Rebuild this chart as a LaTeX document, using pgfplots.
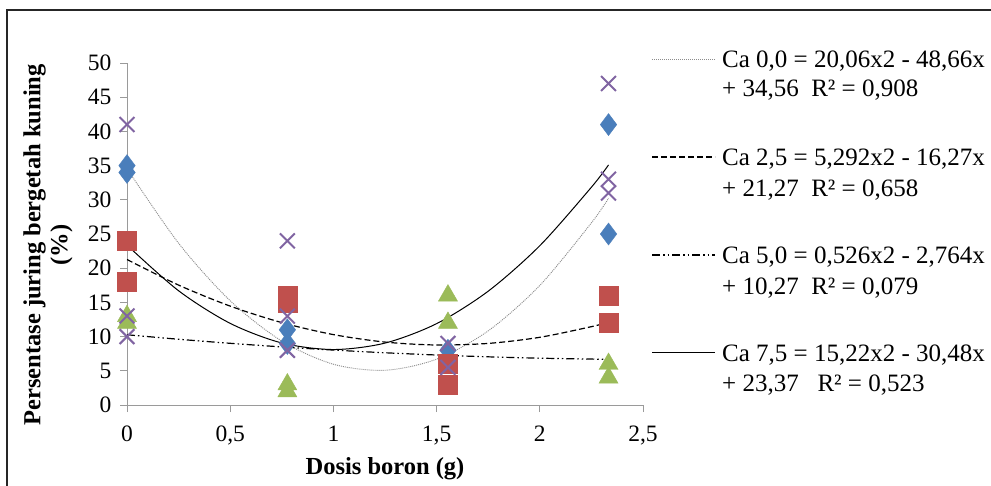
\documentclass[border=0pt]{standalone}
\usepackage{fontspec}
\setmainfont{Liberation Serif}
\usepackage{pgfplots}
\pgfplotsset{compat=1.18}
\definecolor{cblue}{HTML}{4A7EBB}
\definecolor{cred}{HTML}{C0504D}
\definecolor{cgreen}{HTML}{9BBB59}
\definecolor{cpurple}{HTML}{8064A2}
\definecolor{axgray}{HTML}{9A9A9A}
\tikzset{
  tA/.style={color=black!45, line width=0.9pt, dash pattern=on 1pt off 1pt},
  tB/.style={color=black, line width=1.2pt, dash pattern=on 6pt off 3pt},
  tC/.style={color=black, line width=1.2pt, dash pattern=on 8pt off 3pt on 1.5pt off 3pt on 1.5pt off 3pt},
  tD/.style={color=black, line width=1pt},
}
\begin{document}
\begin{tikzpicture}[x=1pt,y=1pt]
\useasboundingbox (0,0) rectangle (991,485);
\fill[white] (0,0) rectangle (991,485);
\draw[line width=2pt, black!85] (7,-2) -- (7,475) -- (993,475);
\begin{axis}[
  at={(127pt,80pt)}, anchor=south west,
  scale only axis, width=516pt, height=342pt,
  xmin=0, xmax=2.5, ymin=0, ymax=50,
  axis lines=left,
  axis line style={-, draw=axgray, line width=1pt},
  tick style={draw=axgray, line width=1pt},
  tick align=outside, major tick length=7pt,
  xtick={0,0.5,1,1.5,2,2.5},
  xticklabels={0,{0,5},1,{1,5},2,{2,5}},
  ytick={0,5,...,50},
  tick label style={font=\fontsize{23.5}{27}\selectfont},
  xticklabel style={yshift=-10pt},
  yticklabel style={/pgf/number format/assume math mode=true, xshift=-5pt},
  clip=false,
]
% Ca 0,0
\addplot[only marks, mark=diamond*, mark size=11pt, draw=cblue, fill=cblue] coordinates {
 (0,35) (0,34) (0.777,11) (0.777,9) (1.555,8) (2.333,41) (2.333,25)};
% Ca 2,5
\addplot[only marks, mark=square*, mark size=9.5pt, draw=cred, fill=cred] coordinates {
 (0,24) (0,18) (0.777,16) (0.777,15) (1.555,6) (1.555,3) (2.333,16) (2.333,12)};
% Ca 5,0
\addplot[only marks, mark=triangle*, mark size=11pt, draw=cgreen, fill=cgreen] coordinates {
 (0,13) (0,12) (0.777,3) (0.777,2) (1.555,16) (1.555,12) (2.333,6) (2.333,4)};
% Ca 7,5
\addplot[only marks, mark=x, mark size=10.5pt, draw=cpurple, mark options={line width=2pt}] coordinates {
 (0,41) (0,13) (0,10) (0.777,24) (0.777,13) (0.777,8) (1.555,9) (1.555,5.5) (2.333,47) (2.333,33) (2.333,31)};
% trendlines
\addplot[tA, smooth, no marks] coordinates {
 (0,34.56) (0.25,23.65) (0.5,15.245) (0.75,9.349) (1,5.96) (1.25,5.079) (1.5,6.705) (1.75,10.839) (2,17.48) (2.25,26.629) (2.333,30.23)};
\addplot[tB, smooth, no marks] coordinates {
 (0,21.27) (0.25,17.53) (0.5,14.458) (0.75,12.044) (1,10.292) (1.25,9.201) (1.5,8.772) (1.75,9.004) (2,9.898) (2.25,11.453) (2.333,12.117)};
\addplot[tC, smooth, no marks] coordinates {
 (0,10.27) (0.25,9.612) (0.5,9.02) (0.75,8.493) (1,8.032) (1.25,7.637) (1.5,7.308) (1.75,7.044) (2,6.846) (2.25,6.714) (2.333,6.685)};
\addplot[tD, smooth, no marks] coordinates {
 (0,23.37) (0.25,16.701) (0.5,11.935) (0.75,9.071) (1,8.11) (1.25,9.051) (1.5,11.895) (1.75,16.641) (2,23.29) (2.25,31.841) (2.333,35.10)};
\end{axis}
% axis titles
\node[font=\fontsize{24.5}{28}\selectfont\bfseries] at (385,16) {Dosis boron (g)};
\node[font=\fontsize{24.5}{27}\selectfont\bfseries, rotate=90, align=center] at (48,240) {Persentase juring bergetah kuning\\(\%)};
% legend
\begin{scope}[every node/.style={anchor=base west, inner sep=0pt, font=\fontsize{25}{28}\selectfont}]
\draw[tA] (652,426) -- (715,426);
\node at (722,417) {Ca 0,0 = 20,06x2 - 48,66x};
\node at (722,388) {+ 34,56\ \ R² = 0,908};
\draw[tB] (652,328) -- (715,328);
\node at (722,319) {Ca 2,5 = 5,292x2 - 16,27x};
\node at (722,288) {+ 21,27\ \ R² = 0,658};
\draw[tC] (652,230) -- (715,230);
\node at (722,221) {Ca 5,0 = 0,526x2 - 2,764x};
\node at (722,190) {+ 10,27\ \ R² = 0,079};
\draw[tD] (652,132) -- (715,132);
\node at (722,123) {Ca 7,5 = 15,22x2 - 30,48x};
\node at (722,93) {+ 23,37\ \ \ R² = 0,523};
\end{scope}
\end{tikzpicture}
\end{document}
